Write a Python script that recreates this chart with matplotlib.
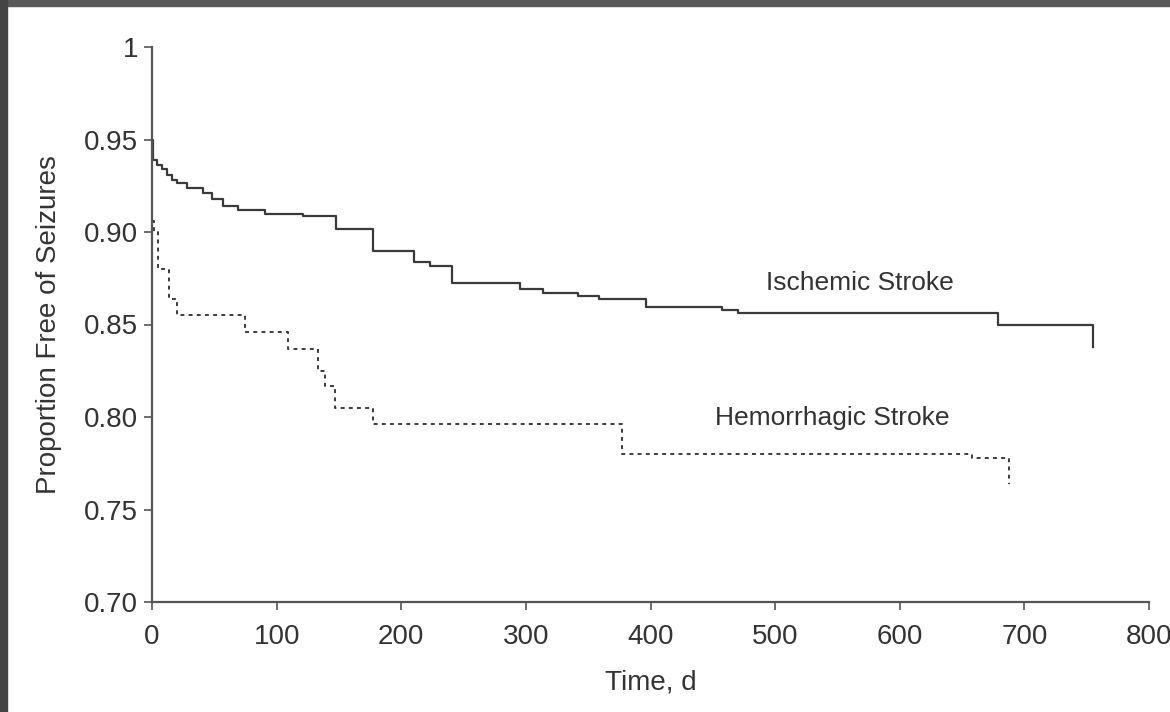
import matplotlib
matplotlib.use("Agg")
import matplotlib.pyplot as plt
from matplotlib.patches import Rectangle

# Ischemic stroke Kaplan-Meier steps (time in days, proportion free after step)
isch_time = [0, 1, 4, 8, 12, 16, 20, 28, 41, 48, 57, 69, 91, 121, 148, 177,
             210, 223, 241, 295, 314, 342, 359, 396, 457, 470, 679, 755]
isch_surv = [0.950, 0.939, 0.936, 0.934, 0.931, 0.928, 0.9265, 0.924, 0.921,
             0.918, 0.914, 0.912, 0.910, 0.9086, 0.9016, 0.890, 0.884, 0.8816,
             0.8724, 0.869, 0.867, 0.8654, 0.8638, 0.8595, 0.858, 0.856,
             0.850, 0.838]

# Hemorrhagic stroke
hem_time = [0, 2, 5, 14, 20, 75, 109, 133, 139, 147, 177, 377, 658, 688]
hem_surv = [0.906, 0.900, 0.880, 0.864, 0.855, 0.846, 0.837, 0.825, 0.817,
            0.805, 0.796, 0.780, 0.778, 0.764]

x_ticks = [0, 100, 200, 300, 400, 500, 600, 700, 800]
y_ticks = [0.70, 0.75, 0.80, 0.85, 0.90, 0.95, 1.0]
y_tick_labels = ["0.70", "0.75", "0.80", "0.85", "0.90", "0.95", "1"]

plt.rcParams['font.family'] = ["Liberation Sans", "DejaVu Sans"]

txt = "#333333"
fig = plt.figure(figsize=(11.7, 7.12), dpi=100)
ax = fig.add_axes([152/1170, 1-602/712, (1149-152)/1170, (602-47)/712])

ax.step(isch_time, isch_surv, where="post", color="#3a3a3a", lw=1.6)
ax.step(hem_time, hem_surv, where="post", color="#3a3a3a", lw=1.4,
        linestyle=(0, (2.0, 2.2)))

ax.set_xlim(0, 800)
ax.set_ylim(0.70, 1.0)
ax.set_xticks(x_ticks)
ax.set_xticklabels([str(v) for v in x_ticks])
ax.set_yticks(y_ticks)
ax.set_yticklabels(y_tick_labels)
for s in ["top", "right"]:
    ax.spines[s].set_visible(False)
for s in ["left", "bottom"]:
    ax.spines[s].set_color("#555555")
    ax.spines[s].set_linewidth(1.6)
ax.tick_params(direction="out", length=6, width=1.2, color="#555555",
               labelsize=20, labelcolor=txt)
ax.tick_params(axis="x", pad=10)
ax.tick_params(axis="y", pad=4)
ax.set_xlabel("Time, d", fontsize=20, color=txt, labelpad=14)
ax.set_ylabel("Proportion Free of Seizures", fontsize=20, color=txt, labelpad=16)

ax.text(568, 0.8724, "Ischemic Stroke", fontsize=19, color=txt, ha="center", va="center")
ax.text(546, 0.7995, "Hemorrhagic Stroke", fontsize=19, color=txt, ha="center", va="center")

# dark frame at top and left
fig.patches.append(Rectangle((0, 1-6/712), 1, 6/712, transform=fig.transFigure,
                             color="#5a5a5a", zorder=10))
fig.patches.append(Rectangle((0, 0), 7/1170, 1, transform=fig.transFigure,
                             color="#444444", zorder=10))

fig.savefig("out.png", dpi=100)
